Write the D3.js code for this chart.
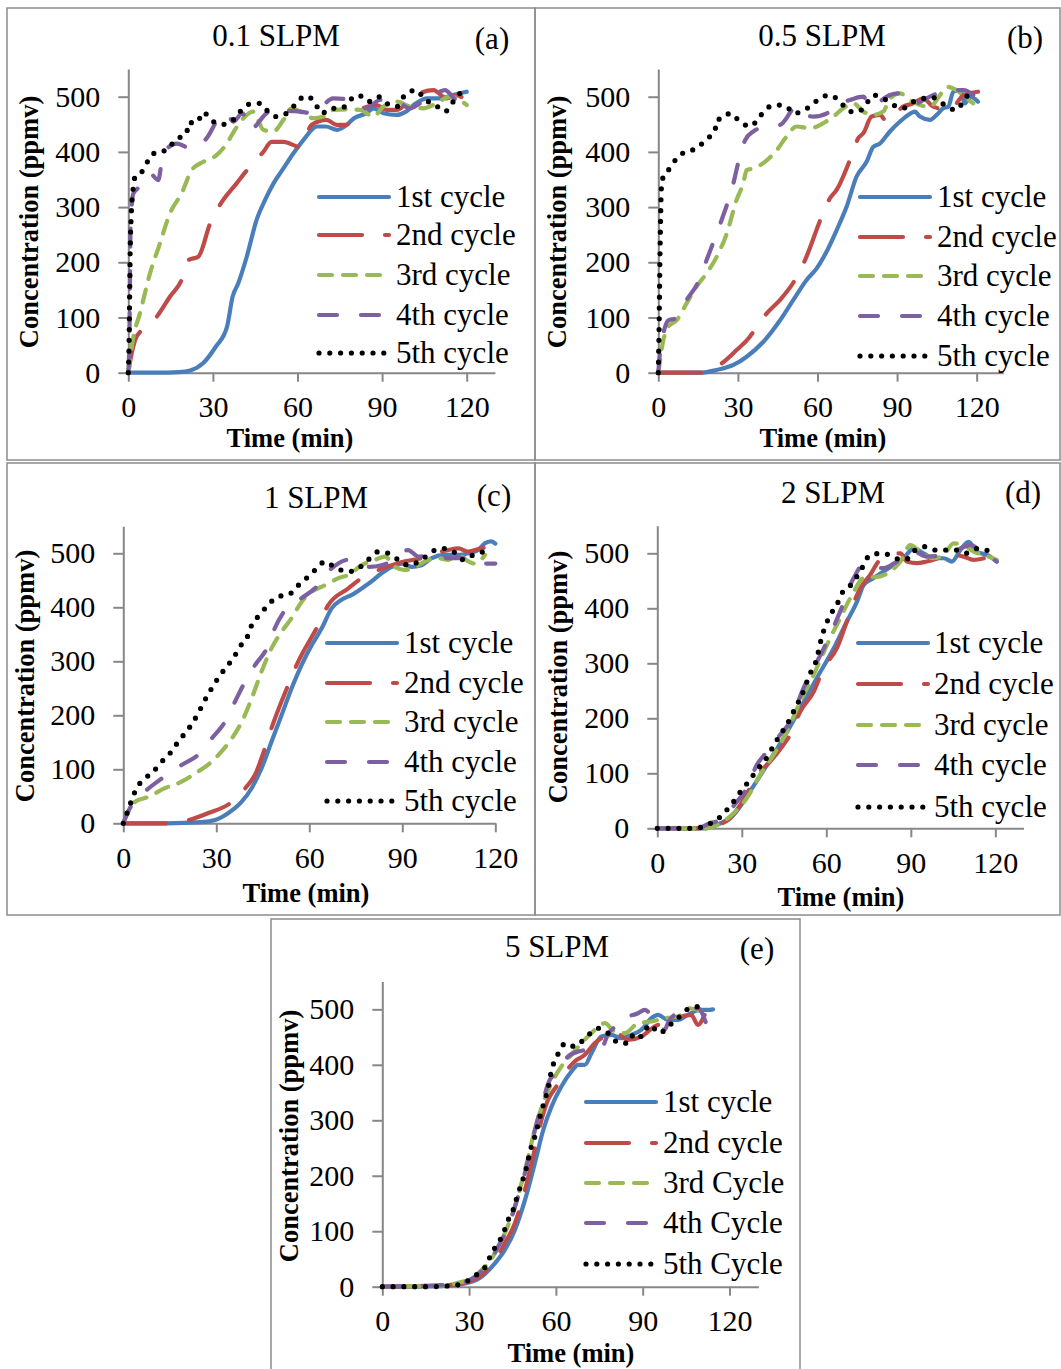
<!DOCTYPE html>
<html>
<head>
<meta charset="utf-8">
<script src="https://d3js.org/d3.v7.min.js"></script>
<style>
body { margin: 0; background: #fff; }
svg text { font-family: "Liberation Serif", "Times New Roman", serif; fill: #000; }
</style>
</head>
<body>
<div class="container"></div>
<script>
var xTicks = [0, 30, 60, 90, 120];
var yTicks = [0, 100, 200, 300, 400, 500];
var cycleNames = ["1st cycle", "2nd cycle", "3rd cycle", "4th cycle", "5th cycle"];
var cycleNamesE = ["1st cycle", "2nd cycle", "3rd Cycle", "4th Cycle", "5th Cycle"];
var titles = ["0.1 SLPM", "0.5 SLPM", "1 SLPM", "2 SLPM", "5 SLPM"];
var letters = ["(a)", "(b)", "(c)", "(d)", "(e)"];

// (a) 0.1 SLPM  [time min, ppmv]
var a_1 = [[0,0],[10,0],[18,1],[22,4],[26.5,17],[31,47],[35,83],[37,138],[39,162],[42,210],[45.5,277],[48.5,313],[51.5,343],[55,370],[58.5,397],[62,421],[67,446],[70,446],[74,440],[77.5,449],[80,461],[84.5,470],[87,479],[90.5,470],[95,467],[98.5,473],[102,488],[106,497],[110.5,497],[115,503],[120,509]];
var a_2 = [[0,0],[1.2,35],[2.4,59],[4.7,77],[10,101],[14.8,138],[18.9,168],[21.3,204],[24.8,210],[29,270],[32.5,304],[38.4,343],[42.6,370],[47.9,400],[50.8,418],[55,418],[60.9,409],[65,449],[70.3,458],[73.9,449],[77,449],[83.3,479],[88,485],[91.6,476],[95,476],[99.9,494],[103.4,506],[108.2,512],[112.9,497],[116.4,503],[120.5,488]];
var a_3 = [[0,0],[1.8,65],[4.1,107],[7.7,180],[11.2,234],[14.8,289],[18.9,325],[22.5,367],[26.6,382],[31.3,394],[34.9,415],[37.8,440],[40.8,461],[44.3,473],[47.9,440],[51.4,437],[55,458],[57.9,479],[62.1,470],[65.6,461],[69.1,464],[72.7,476],[77.4,477],[82.2,476],[86.9,464],[90.4,482],[95.2,491],[99.9,482],[104.6,479],[109.3,488],[114.1,500],[120,485]];
var a_4 = [[0,0],[0.4,59],[0.6,168],[0.8,264],[1.8,325],[4.1,337],[7.7,361],[10.6,349],[12.4,397],[17.1,415],[22.5,406],[27.8,425],[32.5,464],[34.9,470],[37.2,455],[40.5,470],[43,440],[49,470],[52.6,482],[56,475],[60.9,473],[65.6,470],[72.7,497],[78.6,494],[84.5,479],[89.2,494],[96.3,488],[99.9,479],[103.4,488],[109.3,506],[112.3,512],[116,495],[120,488]];
var a_5 = [[0,0],[0.3,60],[0.5,150],[0.7,230],[1,280],[1.8,337],[2.4,355],[5.3,367],[7.1,385],[10,400],[13.6,403],[16.5,421],[20.7,434],[21.3,453],[24.3,453],[26.6,472],[29.5,457],[33.7,450],[36.6,455],[39.6,473],[43.2,487],[46.7,488],[49.6,473],[52.6,464],[56.1,470],[59.1,485],[62.6,501],[65.6,494],[68.6,470],[72.1,479],[75.7,479],[78.6,494],[81.6,503],[85.1,491],[88.7,500],[91.6,488],[95.2,482],[98.1,503],[102.2,512],[105.2,494],[108.2,488],[112.3,473],[115.2,491],[117.6,506]];

// (b) 0.5 SLPM
var b_1 = [[0,0],[16.3,0],[22,5],[28.3,14],[33.3,29],[39.6,56],[45.9,95],[50.9,132],[55.9,168],[59.7,189],[63.4,219],[67.2,258],[71,301],[74.7,355],[78.5,382],[81,409],[83.5,415],[87.3,437],[91.1,455],[94.2,467],[96.7,473],[98.6,464],[102.4,458],[104.9,467],[107.4,479],[109.3,482],[111.2,509],[113.7,512],[115.6,488],[117.5,500],[120.5,491]];
var b_2 = [[0,0],[16.3,0],[23.9,17],[29.5,41],[34.5,65],[35.8,74],[40.8,107],[45.9,132],[51.5,168],[55.3,204],[61.6,283],[64.7,316],[67.2,331],[72.2,385],[75.4,425],[77.3,434],[80.4,464],[83.5,467],[86.1,455],[92.3,482],[96.1,488],[99.9,497],[103.6,482],[109.9,476],[112.4,488],[115,503],[120.5,509]];
var b_3 = [[0,0],[1.9,59],[3.8,83],[6.9,95],[10.7,126],[14.4,156],[18.2,180],[22,210],[25.8,252],[29.5,313],[32,343],[33.3,367],[35.8,370],[40.2,382],[44.6,403],[48.4,428],[52.1,446],[57.2,443],[62.2,452],[66,464],[69.7,479],[73.5,488],[77.3,473],[81,467],[84.8,473],[87.3,497],[91.1,506],[94.8,494],[98.6,485],[102.4,482],[106.2,503],[108.7,518],[112.4,512],[116.2,497],[118.7,488]];
var b_4 = [[0,0],[0.6,35],[1.9,71],[3.8,95],[6.3,98],[10.7,132],[15.1,165],[18.2,204],[22,252],[23.9,277],[28.3,343],[30.2,382],[32.7,421],[35.8,437],[40.8,446],[45.9,449],[52.1,482],[54.6,470],[58.4,464],[64.7,473],[68.5,488],[72.2,494],[77.3,500],[79.8,482],[87.3,503],[91.1,506],[97.4,488],[99.9,494],[102.4,500],[109.9,512],[115,512],[118.7,503]];
var b_5 = [[0,0],[0.3,80],[0.6,200],[0.9,290],[1.2,337],[1.9,355],[3.8,367],[6.9,388],[10,400],[14.4,406],[17.6,421],[21.4,440],[22,458],[24.5,461],[27,470],[30.8,455],[34.5,446],[38.3,464],[40.8,479],[44.6,485],[48.4,482],[50.9,470],[54,473],[57.8,485],[60.9,497],[64.7,503],[68.5,491],[72.2,473],[75.4,473],[78.5,488],[81,503],[84.8,497],[88.6,485],[92.3,479],[94.8,488],[98.6,494],[102.4,500],[105.5,494],[108.7,482],[112.4,476],[115.6,497],[118,509]];

// (c) 1 SLPM
var c_1 = [[0,0],[14,0],[25.3,2],[29.6,6],[33.9,19],[38.2,40],[41.4,65],[44.6,102],[47.8,151],[51.1,201],[54.3,250],[57.5,293],[60.8,330],[64,361],[67.2,398],[70.4,414],[73.7,423],[76.9,435],[80.1,448],[83.3,463],[86.6,475],[89.8,481],[93,475],[96.2,478],[99.5,491],[103.8,497],[108.1,497],[111.3,500],[114.5,506],[116.7,519],[118.8,522],[120,518]];
var c_2 = [[0,0],[14,0],[21,6],[27.4,19],[34.4,37],[39.8,68],[42.5,90],[45.7,139],[47.8,176],[53.2,256],[55.9,293],[62.9,367],[66.1,404],[72.6,435],[76.9,454],[82.3,469],[86.6,478],[90.9,485],[96.2,491],[100.5,500],[104.8,506],[108.1,509],[111.3,503],[113.4,506],[118.3,512],[120,508]];
var c_3 = [[0,0],[1.6,22],[3.8,40],[8.1,49],[13.4,65],[18.8,77],[24.2,96],[28.5,114],[31.7,133],[35,157],[38.2,188],[41.4,231],[44.6,281],[47.8,324],[51.1,355],[54.3,380],[57.5,410],[60.8,429],[65.1,441],[69.4,454],[72.6,460],[76.9,478],[81.2,488],[84.4,494],[87.6,475],[90.9,469],[94.1,475],[98.4,488],[101.6,491],[104.8,488],[108.1,497],[111.3,485],[113.4,481],[116.7,497]];
var c_4 = [[0,0],[1.6,22],[2.7,34],[7,59],[12.4,83],[18.8,108],[24.2,127],[28.5,157],[32.8,188],[36,225],[38.7,256],[42.5,293],[46.8,330],[48.4,355],[52.2,395],[57.5,417],[61.8,435],[67.2,472],[72.6,488],[79,475],[83.3,478],[86.6,485],[91.9,506],[95.2,494],[100.5,497],[104.8,491],[111.3,491],[114.5,481],[120,481]];
var c_5 = [[0,0],[1.4,22],[2.7,43],[4.3,65],[7,83],[9.7,96],[12.4,114],[15.1,130],[17.7,151],[19.9,167],[22.6,188],[24.7,210],[26.3,228],[28.5,250],[30.6,269],[33.3,290],[35.5,306],[37.6,327],[40.3,349],[41.4,367],[43.5,383],[46.2,401],[50,420],[53.2,423],[56.5,441],[59.7,457],[62.4,472],[65.1,485],[68,475],[72.6,466],[75.8,472],[79,488],[82.3,503],[85.5,500],[88.7,488],[91.9,478],[96.2,488],[99.5,503],[103.2,509],[106.5,503],[109.7,488],[112.9,497],[116.1,503],[118.8,512]];

// (d) 2 SLPM
var d_1 = [[0,0],[17,0],[21.1,6],[27,24],[32.9,67],[38.9,115],[44.8,164],[50.7,218],[56.6,273],[62.6,327],[67.3,376],[70.9,412],[73.2,442],[76.8,455],[80.3,467],[83.9,479],[87.4,491],[91,509],[94.5,500],[98.1,491],[101.7,491],[104.6,485],[107.6,506],[110.5,521],[113.5,503],[117.1,497],[120.5,485]];
var d_2 = [[0,0],[15,0],[21.1,6],[25.8,18],[29.4,42],[32.9,73],[36.5,103],[40,121],[44.8,152],[47.2,170],[50.7,212],[55.5,248],[59,291],[63.7,327],[67.3,376],[72,436],[75.6,461],[79.1,488],[86.3,500],[88.6,485],[92.2,482],[95.7,485],[105.2,497],[108.8,494],[112.3,488],[115.9,491]];
var d_3 = [[0,0],[17.5,0],[22.3,9],[27,27],[31.8,55],[36.5,97],[41.2,133],[46,176],[50.7,230],[55.5,279],[60.2,333],[64.9,382],[69.1,424],[73.2,455],[79.1,458],[82.7,467],[86.3,485],[89.8,515],[93.4,503],[98.1,491],[101.7,497],[105.2,518],[108.8,515],[112.3,503],[115.9,497],[120.5,488]];
var d_4 = [[0,0],[14,0],[18.7,9],[22.3,15],[28.2,48],[31.8,73],[35.3,115],[38.9,139],[43.6,170],[47.2,194],[51.9,255],[55.5,291],[60.2,339],[64.9,394],[69.7,455],[73.2,479],[80.3,473],[85.1,485],[91,503],[95.7,494],[101.7,497],[106.4,506],[111.1,515],[115.9,500],[120.5,485]];
var d_5 = [[0,0],[4,0],[8.5,0],[13.4,0],[17.5,6],[21.7,18],[24.6,33],[27.6,52],[30,70],[32.9,88],[35.3,106],[38.3,124],[41.8,155],[44.8,179],[47.2,200],[48.9,218],[51.3,242],[54.3,282],[56.3,303],[58.4,348],[61.4,388],[63.7,406],[65.5,427],[69,444],[72,467],[75.6,497],[80.3,500],[84.5,491],[88,488],[91.6,506],[95.1,512],[98.7,506],[101.7,506],[105.8,506],[109.4,500],[114.1,509],[118.2,503]];

// (e) 5 SLPM
var e_1 = [[0,0],[20,1],[25.1,3],[29.7,7],[34.3,18],[38.9,42],[42.3,66],[45.8,102],[49.3,156],[52.7,222],[55.6,282],[58.5,325],[61.9,361],[65.4,388],[67.7,400],[70,400],[72.3,421],[75.7,451],[79.2,454],[82.6,448],[86.1,454],[89.5,463],[93,484],[95.3,490],[98.7,481],[102.2,481],[105.6,490],[109.7,499],[112.5,499],[114.3,500]];
var e_2 = [[0,0],[22.8,3],[28.5,7],[34.3,21],[38.9,48],[42.3,78],[45.8,114],[49.3,174],[52.1,234],[55,300],[57.3,337],[60.2,361],[63.1,385],[66.5,406],[70,418],[73.4,439],[76.9,451],[80.3,460],[84.9,445],[89.5,451],[94.1,469],[98.7,478],[103.3,487],[106.8,490],[109.1,472],[111.4,490]];
var e_3 = [[0,0],[20,2],[26.2,7],[30.8,15],[35.4,36],[38.9,60],[42.3,96],[45.8,144],[49.3,210],[52.7,282],[55.6,331],[58.5,367],[61.9,397],[65.4,418],[68.8,439],[72.3,457],[76.9,475],[80.3,460],[83.8,457],[88.4,475],[93,478],[97.6,484],[102.2,487],[106.2,502],[110.2,496],[112.5,487]];
var e_4 = [[0,0],[20.5,3],[27.4,7],[32,18],[36.6,42],[40,72],[43.5,108],[46.9,162],[50.4,228],[52.7,282],[55,325],[57.9,373],[60.2,385],[64.2,415],[67.7,424],[75.7,430],[78.2,457],[80.3,469],[81.5,481],[88.4,493],[90.7,499],[93,490],[97.6,463],[98.7,475],[101,490],[106.8,499],[109.1,502],[111.9,475]];
var e_5 = [[0,0],[4.3,0],[8.4,0],[13,0],[17,0],[21.6,1],[25.7,3],[29.7,11],[33.1,24],[36,39],[37.7,60],[40,78],[41.8,96],[43.5,120],[45.2,138],[46.4,159],[48.1,186],[49.3,204],[50.4,228],[51.5,252],[52.7,270],[53.9,294],[55,316],[56.2,337],[57.3,358],[58.5,390],[60.5,417],[63.4,439],[66.5,433],[68.9,442],[72.4,459],[74.5,466],[78,457],[82,439],[84.9,439],[87.2,457],[89.5,451],[92.4,472],[95.9,457],[98.7,469],[101.6,481],[105.1,499],[108.5,505],[112,496]];

var seriesStyle = [
  {color: "#4a7ebb", dash: null, width: 4.2},
  {color: "#be4b48", dash: "43,23", width: 4.2},
  {color: "#98b954", dash: "13,11", width: 4.2},
  {color: "#7d60a0", dash: "18,24", width: 4.2},
  {color: "#000000", dash: "0,10.8", width: 5.2}
];

// where each panel sits on the page
var panels = [
  {series: [a_1, a_2, a_3, a_4, a_5], names: cycleNames, frame: [7, 8, 528, 452],
   xr: [128.3, 494.9], xMax: 130, yr: [372.7, 69.1],
   title: [276, 46], letter: [492, 49], yLab: [37.5, 222], xLab: [290, 447],
   legX: [319, 389, 396], legY: [197, 235, 275, 315, 353]},
  {series: [b_1, b_2, b_3, b_4, b_5], names: cycleNames, frame: [535, 8, 525, 452],
   xr: [658.3, 1003.2], xMax: 130, yr: [372.7, 69.1],
   title: [822, 46], letter: [1025, 48], yLab: [566.4, 222], xLab: [823, 447],
   legX: [860, 930, 937], legY: [197, 237, 276, 316, 356]},
  {series: [c_1, c_2, c_3, c_4, c_5], names: cycleNames, frame: [7, 463, 528, 452],
   xr: [123.3, 495.3], xMax: 120, yr: [823.3, 526.3],
   title: [316, 508], letter: [494, 506], yLab: [33.5, 676], xLab: [306, 902],
   legX: [327, 397, 404], legY: [643, 683, 722, 762, 801]},
  {series: [d_1, d_2, d_3, d_4, d_5], names: cycleNames, frame: [535, 463, 525, 452],
   xr: [657.3, 1023.5], xMax: 130, yr: [828.3, 525.8],
   title: [833, 503], letter: [1023, 503], yLab: [566.5, 677], xLab: [841, 906],
   legX: [858, 928, 934], legY: [643, 684, 725, 765, 807]},
  {series: [e_1, e_2, e_3, e_4, e_5], names: cycleNamesE, frame: [271, 919, 529, 470],
   xr: [382.3, 758.4], xMax: 130, yr: [1286.7, 981.6],
   title: [557, 957], letter: [757, 959], yLab: [298, 1136], xLab: [571, 1362],
   legX: [586, 656, 663], legY: [1102, 1143, 1183, 1223, 1264]}
];

var svg = d3.select(".container").append("svg")
  .attr("width", 1061).attr("height", 1369);

panels.forEach(function(p, i){
  drawPanel(p, i);
});

function drawPanel(p, i){
  var g = svg.append("g");

  g.append("rect")
    .attr("x", p.frame[0]).attr("y", p.frame[1])
    .attr("width", p.frame[2]).attr("height", p.frame[3])
    .attr("fill", "none").attr("stroke", "#8c8c8c").attr("stroke-width", 1.5);

  var x = d3.scaleLinear().domain([0, p.xMax]).range(p.xr);
  var y = d3.scaleLinear().domain([0, 550]).range(p.yr);

  var xAxis = g.append("g")
    .attr("transform", "translate(0," + p.yr[0] + ")")
    .call(d3.axisBottom(x).tickValues(xTicks).tickSize(9).tickSizeOuter(0).tickPadding(14));
  var yAxis = g.append("g")
    .attr("transform", "translate(" + p.xr[0] + ",0)")
    .call(d3.axisLeft(y).tickValues(yTicks).tickSize(10).tickSizeOuter(0).tickPadding(18));

  [xAxis, yAxis].forEach(function(ax){
    ax.attr("font-family", null).attr("font-size", null);
    ax.selectAll("path, line").attr("stroke", "#878787").attr("stroke-width", 2);
    ax.selectAll("text").style("font-size", "30px");
  });

  var line = d3.line()
    .x(function(d){ return x(d[0]); })
    .y(function(d){ return y(d[1]); })
    .curve(d3.curveMonotoneX);

  p.series.forEach(function(s, k){
    var st = seriesStyle[k];
    g.append("path")
      .datum(s)
      .attr("d", line)
      .attr("fill", "none")
      .attr("stroke", st.color)
      .attr("stroke-width", st.width)
      .attr("stroke-linecap", "round")
      .attr("stroke-linejoin", "round")
      .attr("stroke-dasharray", st.dash);
  });

  // legend
  p.names.forEach(function(n, k){
    var st = seriesStyle[k];
    var ly = p.legY[k];
    g.append("line")
      .attr("x1", p.legX[0]).attr("x2", p.legX[1])
      .attr("y1", ly).attr("y2", ly)
      .attr("stroke", st.color)
      .attr("stroke-width", st.width)
      .attr("stroke-linecap", "round")
      .attr("stroke-dasharray", st.dash);
    g.append("text")
      .attr("x", p.legX[2]).attr("y", ly + 10)
      .style("font-size", "31px")
      .text(n);
  });

  g.append("text")
    .attr("x", p.title[0]).attr("y", p.title[1])
    .attr("text-anchor", "middle")
    .style("font-size", "31px")
    .text(titles[i]);
  g.append("text")
    .attr("x", p.letter[0]).attr("y", p.letter[1])
    .attr("text-anchor", "middle")
    .style("font-size", "31px")
    .text(letters[i]);

  g.append("text")
    .attr("transform", "translate(" + p.yLab[0] + "," + p.yLab[1] + ") rotate(-90)")
    .attr("text-anchor", "middle")
    .style("font-size", "26.5px").style("font-weight", "bold")
    .text("Concentration (ppmv)");
  g.append("text")
    .attr("x", p.xLab[0]).attr("y", p.xLab[1])
    .attr("text-anchor", "middle")
    .style("font-size", "26.5px").style("font-weight", "bold")
    .text("Time (min)");
}
</script>
</body>
</html>
